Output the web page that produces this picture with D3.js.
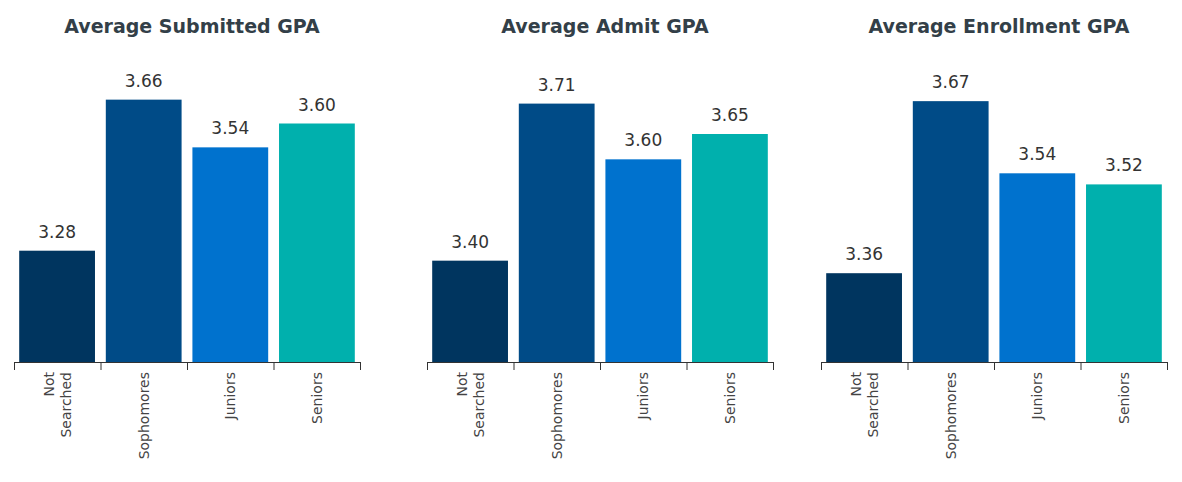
<!DOCTYPE html>
<html><head><meta charset="utf-8">
<script src="https://cdn.jsdelivr.net/npm/d3@7"></script>
<style>body{margin:0;background:#fff;font-family:Verdana,"DejaVu Sans",sans-serif}</style>
</head><body><div id="chart"></div>
<script>
var categories = ["Not Searched", "Sophomores", "Juniors", "Seniors"];
var titles = ["Average Submitted GPA", "Average Admit GPA", "Average Enrollment GPA"];
var submitted = [3.28, 3.66, 3.54, 3.60];
var admit = [3.40, 3.71, 3.60, 3.65];
var enrollment = [3.36, 3.67, 3.54, 3.52];
var colors = ["#00355f", "#004b87", "#0072ce", "#00b0ad"];

var panels = [
  {title: titles[0], values: submitted, x0: 14, domain: [3.0, 3.8], top: 44},
  {title: titles[1], values: admit, x0: 427, domain: [3.2, 3.8], top: 58},
  {title: titles[2], values: enrollment, x0: 821, domain: [3.2, 3.8], top: 29}
];
var width = 1182, height = 482, base = 362, pw = 346;

var svg = d3.select("#chart").append("svg").attr("width", width).attr("height", height);

panels.forEach(function(p){
  var g = svg.append("g").attr("transform", "translate(" + p.x0 + ",0)");
  var x = d3.scaleBand().domain(categories).range([0, pw]).paddingInner(0.125).paddingOuter(0.06);
  var y = d3.scaleLinear().domain(p.domain).range([base, p.top]);

  g.append("text").attr("x", pw/2 + 5).attr("y", 33).attr("text-anchor", "middle")
    .attr("font-size", 19).attr("font-weight", "bold").attr("fill", "#333f48").text(p.title);

  g.selectAll("rect").data(p.values).enter().append("rect")
    .attr("x", (d,i) => x(categories[i]))
    .attr("width", x.bandwidth())
    .attr("y", d => y(d))
    .attr("height", d => base - y(d))
    .attr("fill", (d,i) => colors[i]);

  g.selectAll(".val").data(p.values).enter().append("text")
    .attr("x", (d,i) => x(categories[i]) + x.bandwidth()/2)
    .attr("y", d => y(d) - 13)
    .attr("text-anchor", "middle").attr("font-size", 17).attr("fill", "#333")
    .text(d => d.toFixed(2));

  // axis line and boundary ticks
  g.append("line").attr("x1", 0).attr("x2", pw).attr("y1", base + 0.5).attr("y2", base + 0.5)
    .attr("stroke", "#333").attr("stroke-width", 1);
  var step = pw / categories.length;
  d3.range(categories.length + 1).forEach(function(i){
    g.append("line").attr("x1", i*step + 0.5).attr("x2", i*step + 0.5)
      .attr("y1", base).attr("y2", base + 8).attr("stroke", "#333");
  });

  categories.forEach(function(c){
    var cx = x(c) + x.bandwidth()/2;
    var lines = c === "Not Searched" ? ["Not", "Searched"] : [c];
    var t = g.append("text").attr("transform", "translate(" + cx + "," + (base + 10) + ") rotate(-90)")
      .attr("text-anchor", "end").attr("font-size", 14).attr("fill", "#444");
    lines.forEach(function(l, k){
      t.append("tspan").attr("x", 0).attr("dy", k === 0 ? (lines.length === 1 ? 5 : -3) : 17).text(l);
    });
  });
});
</script></body></html>
